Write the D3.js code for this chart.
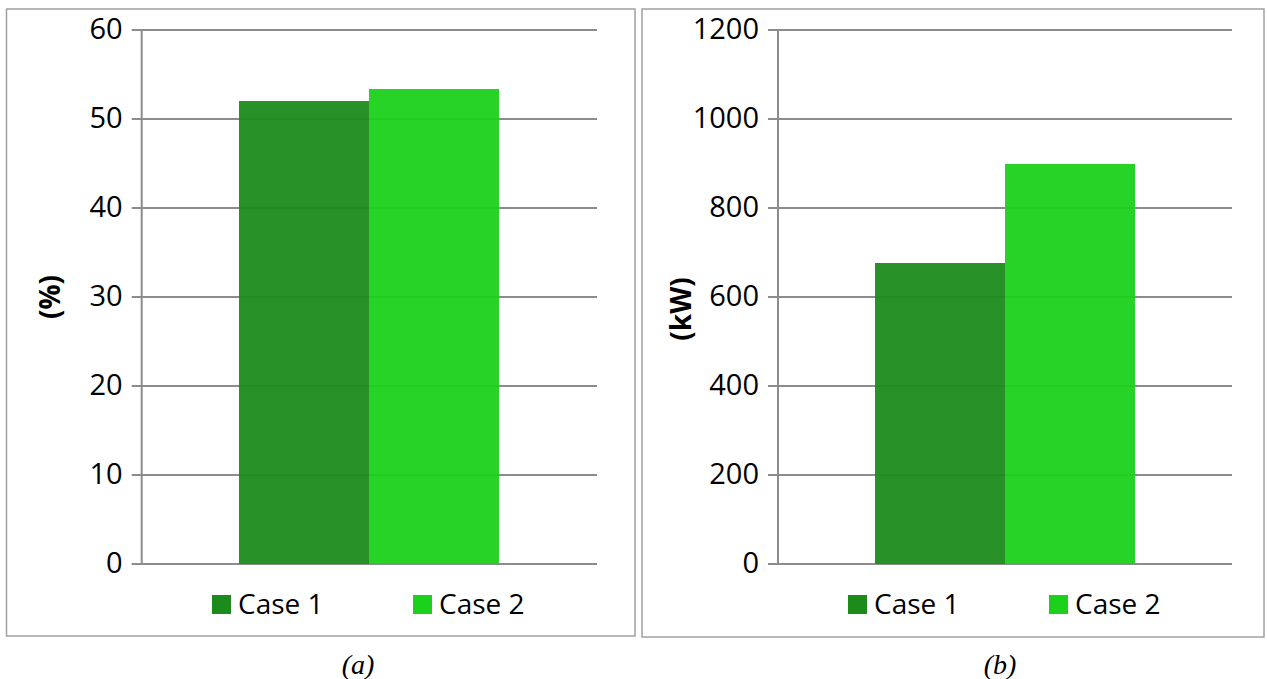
<!DOCTYPE html>
<html>
<head>
<meta charset="utf-8">
<script src="https://cdn.jsdelivr.net/npm/d3@7"></script>
<style>
  body { margin: 0; background: #fff; }
  svg { display: block; }
</style>
</head>
<body>
<div id="chart"></div>
<script>
const w = 1267;
const h = 679;

// data
const cases = ["Case 1", "Case 2"];
const efficiency = [52, 53.3];        // (%)
const power = [675, 898];             // (kW)
const ticksA = [0, 10, 20, 30, 40, 50, 60];
const ticksB = [0, 200, 400, 600, 800, 1000, 1200];
const colors = ["#1c8b1c", "#1bd11b"];

const svg = d3.select("#chart")
    .append("svg")
        .attr("width", w)
        .attr("height", h);

function panel(opt) {
    const g = svg.append("g");

    // frame
    g.append("rect")
        .attr("x", opt.box[0]).attr("y", opt.box[1])
        .attr("width", opt.box[2]).attr("height", opt.box[3])
        .attr("fill", "none")
        .attr("stroke", "#a0a0a0")
        .attr("stroke-width", 1.5);

    const y = d3.scaleLinear()
        .domain([0, d3.max(opt.ticks)])
        .range([563.5, 29.5]);

    const x = d3.scaleBand()
        .domain(cases)
        .range([opt.left, opt.right])
        .paddingInner(0)
        .paddingOuter(0.75);

    // gridlines + ticks via axis
    const axis = g.append("g")
        .attr("transform", "translate(" + opt.left + ",0)")
        .call(d3.axisLeft(y)
            .tickValues(opt.ticks)
            .tickFormat(d3.format("d"))
            .tickSize(-(opt.right - opt.left))
            .tickPadding(19)
            .tickSizeOuter(0));
    axis.select(".domain").remove();
    axis.selectAll(".tick line")
        .attr("x1", -10)
        .attr("stroke", "#8c8c8c")
        .attr("stroke-width", 2);
    axis.selectAll(".tick text")
        .attr("fill", "#000")
        .style("font-family", "'Open Sans', sans-serif")
        .style("font-size", "29px");

    // vertical axis line
    g.append("line")
        .attr("x1", opt.left).attr("x2", opt.left)
        .attr("y1", y.range()[1]).attr("y2", y.range()[0])
        .attr("stroke", "#8c8c8c")
        .attr("stroke-width", 2);

    // bars
    g.selectAll("rect.bar")
        .data(opt.values)
        .enter()
        .append("rect")
            .attr("class", "bar")
            .attr("x", (d, i) => Math.round(x(cases[i])))
            .attr("y", d => y(d))
            .attr("width", Math.round(x.bandwidth()))
            .attr("height", d => y(0) - y(d))
            .attr("fill", (d, i) => colors[i])
            .attr("fill-opacity", 0.95)
            .attr("shape-rendering", "crispEdges");

    // y label
    g.append("text")
        .attr("transform", "translate(" + opt.labelPos[0] + "," + opt.labelPos[1] + ")rotate(-90)")
        .attr("text-anchor", "middle")
        .attr("dominant-baseline", "central")
        .style("font-family", "'Open Sans', sans-serif")
        .style("font-size", "28px")
        .style("font-weight", "bold")
        .text(opt.label);

    // legend
    const leg = g.selectAll("g.leg")
        .data(cases)
        .enter()
        .append("g")
            .attr("class", "leg")
            .attr("transform", (d, i) => "translate(" + (opt.legendX + i * 201) + ",595)");
    leg.append("rect")
        .attr("width", 19).attr("height", 19)
        .attr("fill", (d, i) => colors[i]);
    leg.append("text")
        .attr("x", 26).attr("y", 19)
        .style("font-family", "'Open Sans', sans-serif")
        .style("font-size", "28px")
        .text(d => d);

    // caption
    svg.append("text")
        .attr("x", opt.caption[0]).attr("y", 674)
        .attr("text-anchor", "middle")
        .style("font-family", "'Liberation Serif', 'Times New Roman', serif")
        .style("font-style", "italic")
        .style("font-size", "28px")
        .text(opt.caption[1]);
}

panel({
    box: [6.5, 9, 628.5, 627],
    left: 141.7, right: 597,
    ticks: ticksA, values: efficiency,
    label: "(%)", labelPos: [49, 297],
    legendX: 212,
    caption: [358, "(a)"]
});

panel({
    box: [642, 9, 1264 - 642, 628],
    left: 778, right: 1232,
    ticks: ticksB, values: power,
    label: "(kW)", labelPos: [680, 309],
    legendX: 848,
    caption: [1000, "(b)"]
});
</script>
</body>
</html>
